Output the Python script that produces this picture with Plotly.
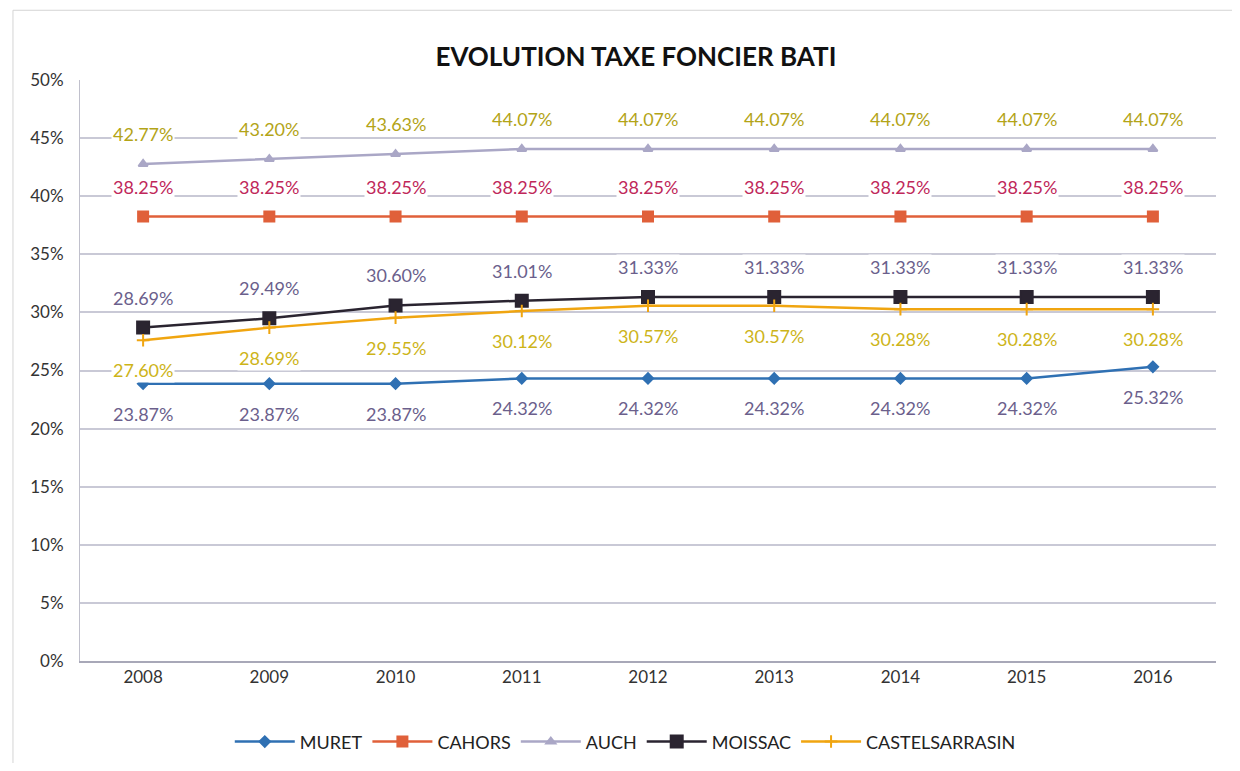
import plotly.graph_objects as go

years = ["2008", "2009", "2010", "2011", "2012", "2013", "2014", "2015", "2016"]

muret = [23.87, 23.87, 23.87, 24.32, 24.32, 24.32, 24.32, 24.32, 25.32]
cahors = [38.25, 38.25, 38.25, 38.25, 38.25, 38.25, 38.25, 38.25, 38.25]
auch = [42.77, 43.20, 43.63, 44.07, 44.07, 44.07, 44.07, 44.07, 44.07]
moissac = [28.69, 29.49, 30.60, 31.01, 31.33, 31.33, 31.33, 31.33, 31.33]
castelsarrasin = [27.60, 28.69, 29.55, 30.12, 30.57, 30.57, 30.28, 30.28, 30.28]

y_ticks = [0, 5, 10, 15, 20, 25, 30, 35, 40, 45, 50]
y_tick_labels = [f"{v}%" for v in y_ticks]

# name, values, line colour, marker, marker size, label colour, label above?
series = [
    ("MURET", muret, "#2f70b3", "diamond", 8, "#6b5f8c", False),
    ("CAHORS", cahors, "#e0603a", "square", 10, "#c0275a", True),
    ("AUCH", auch, "#aaa7c6", "triangle-up", 8, "#b3a417", True),
    ("MOISSAC", moissac, "#2a2430", "square", 12, "#6b5f8c", True),
    ("CASTELSARRASIN", castelsarrasin, "#f0a510", "cross-thin", 9, "#cdb419", False),
]

fig = go.Figure()

for name, vals, col, sym, size, lab_col, above in series:
    fig.add_trace(go.Scatter(
        x=years, y=vals, name=name, mode="lines+markers",
        line=dict(color=col, width=2.5),
        marker=dict(symbol=sym, size=size, color=col,
                    line=dict(color=col, width=2)),
    ))
    # category axis: annotations placed by category index
    for i, v in enumerate(vals):
        fig.add_annotation(
            x=i, y=v, text=f"{v:.2f}%", showarrow=False,
            yshift=30 if above else -30,
            bgcolor="white", borderpad=1,
            font=dict(family="Lato, sans-serif", size=18, color=lab_col),
        )

fig.update_layout(
    width=1224, height=755,
    paper_bgcolor="white", plot_bgcolor="white",
    margin=dict(l=72, r=16, t=72, b=102),
    title=dict(text="<b>EVOLUTION TAXE FONCIER BATI</b>", x=0.513, xanchor="center",
               y=0.935, yanchor="middle",
               font=dict(family="Lato, sans-serif", size=26, color="#111")),
    font=dict(family="Lato, sans-serif", size=17, color="#333"),
    legend=dict(orientation="h", x=0.48, xanchor="center",
                yref="container", y=0.028, yanchor="middle",
                font=dict(size=18, color="#222"), itemwidth=60),
    shapes=[dict(type="rect", xref="paper", yref="paper", x0=-0.059, x1=1.0176,
                 y0=-0.25, y1=1.12, line=dict(color="#d4d4d4", width=1))],
)

fig.update_xaxes(type="category", range=[-0.5, 8.5], showgrid=False, showline=True,
                 linecolor="#a8a8b8", linewidth=1.5, ticks="", automargin=False)
fig.update_yaxes(range=[0, 50], tickvals=y_ticks, ticktext=y_tick_labels,
                 showgrid=True, gridcolor="#c9c9d6", gridwidth=1.5,
                 showline=True, linecolor="#c0c0cc", zeroline=False,
                 ticklabelstandoff=12, automargin=False)

fig.write_html("out.html")
